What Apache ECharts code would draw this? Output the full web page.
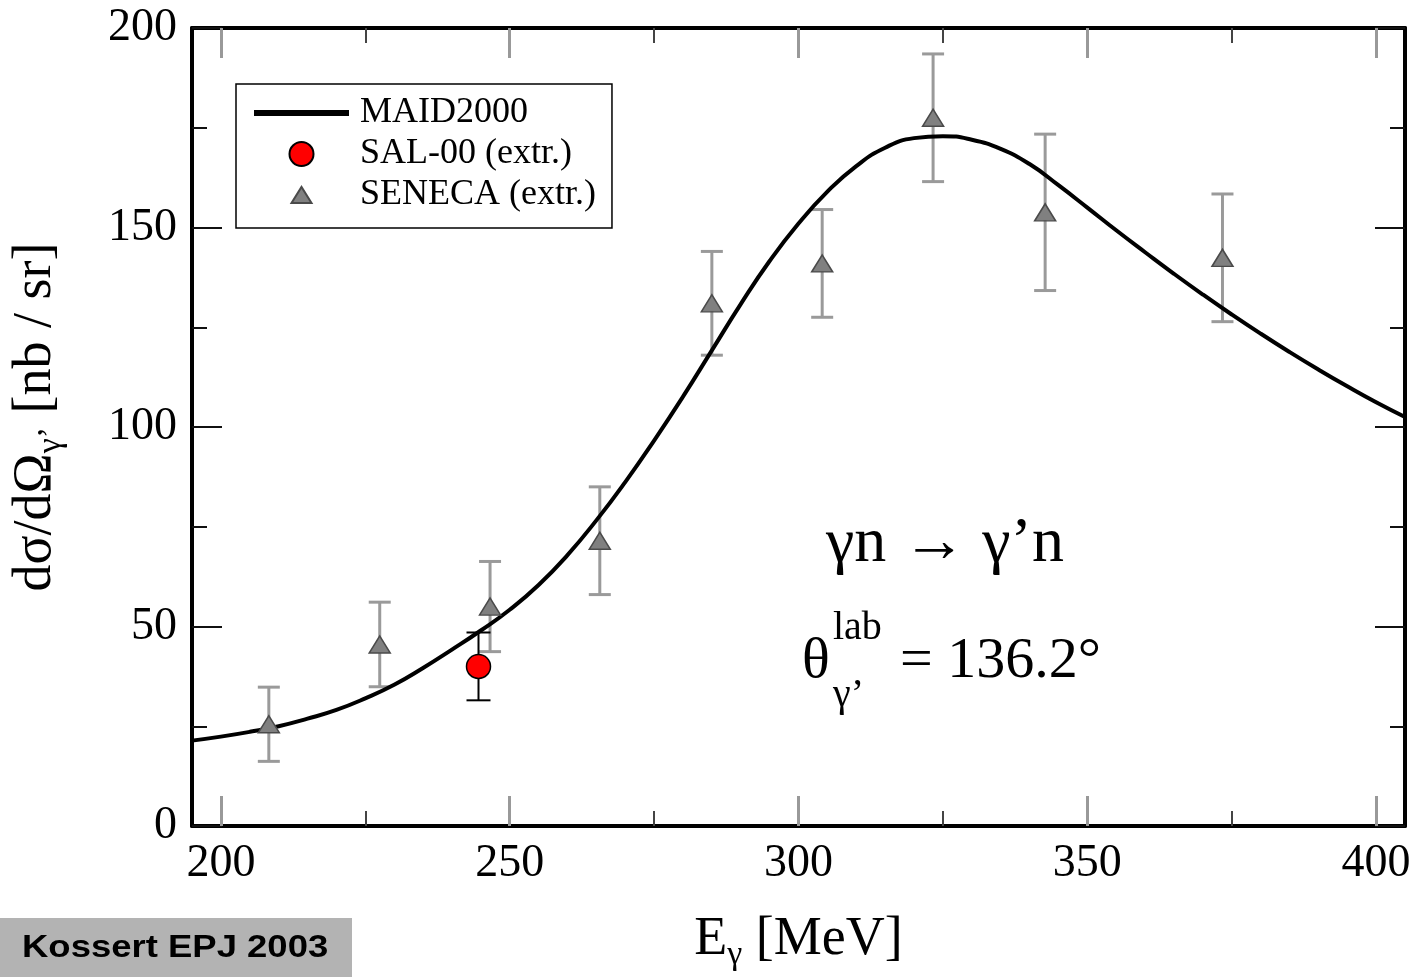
<!DOCTYPE html>
<html>
<head>
<meta charset="utf-8">
<title>MAID2000 vs SAL-00 / SENECA</title>
<script src="https://cdn.jsdelivr.net/npm/echarts@6/dist/echarts.min.js"></script>
<style>
  html, body { margin: 0; padding: 0; background: #fff; }
  #main { width: 1419px; height: 977px; }
</style>
</head>
<body>
<div id="main"></div>
<script type="text/javascript">
// axis ranges and ticks
const xMin = 195, xMax = 405;
const xMajorTicks = [200, 250, 300, 350, 400];
const xMinorTicks = [225, 275, 325, 375];
const yMin = 0, yMax = 200, yStep = 50;

// MAID2000 curve
const maidE = [195, 200, 205, 210, 215, 220, 225, 230, 235, 240, 245, 250, 255, 260, 265,
               270, 275, 280, 285, 290, 295, 300, 305, 310, 315, 320, 325, 330, 335, 340,
               345, 350, 355, 360, 365, 370, 375, 380, 385, 390, 395, 400, 405];
const maidXs = [21.4, 22.4, 23.6, 25.0, 26.9, 29.1, 32.0, 35.4, 39.6, 44.2, 49.0, 54.2, 60.4, 67.9, 76.6,
                86.2, 96.6, 107.6, 119.2, 130.8, 141.6, 151.0, 159.0, 165.4, 170.0, 172.4, 172.9, 172.0, 169.7, 165.9,
                160.6, 155.0, 149.3, 143.8, 138.4, 133.2, 128.2, 123.4, 118.8, 114.4, 110.2, 106.2, 102.5];

// SAL-00 (extr.)
const salE = [244.6];
const salXs = [40.0];
const salErr = [8.5];

// SENECA (extr.)
const senE = [208.3, 227.5, 246.6, 265.6, 285.0, 304.1, 323.3, 342.7, 373.4];
const senXs = [25.5, 45.5, 55.0, 71.5, 131.0, 141.0, 177.5, 153.8, 142.4];
const senErr = [9.3, 10.6, 11.3, 13.5, 13.0, 13.5, 16.0, 19.6, 16.0];

const serif = 'Liberation Serif';

function pairs(xs, ys) {
    return xs.map(function (x, i) { return [x, ys[i]]; });
}
function bars(xs, ys, errs) {
    return xs.map(function (x, i) { return [x, ys[i] - errs[i], ys[i] + errs[i]]; });
}
// error bar drawing through the axis scales
function errorBar(color, width, capHalf) {
    return function (params, api) {
        const lo = api.coord([api.value(0), api.value(1)]);
        const hi = api.coord([api.value(0), api.value(2)]);
        const st = { stroke: color, lineWidth: width };
        return {
            type: 'group',
            children: [
                { type: 'line', shape: { x1: lo[0], y1: lo[1], x2: hi[0], y2: hi[1] }, style: st },
                { type: 'line', shape: { x1: lo[0] - capHalf, y1: lo[1], x2: lo[0] + capHalf, y2: lo[1] }, style: st },
                { type: 'line', shape: { x1: hi[0] - capHalf, y1: hi[1], x2: hi[0] + capHalf, y2: hi[1] }, style: st }
            ]
        };
    };
}

function xAxisDef(pos, ticks, len, color, width, labels, line) {
    return {
        type: 'value', position: pos, min: xMin, max: xMax,
        axisLine: { show: line, lineStyle: { color: '#000', width: 4 } },
        axisTick: { show: true, inside: true, length: len, customValues: ticks,
                    lineStyle: { color: color, width: width } },
        axisLabel: labels ? { show: true, customValues: ticks, margin: 15,
                              fontFamily: serif, fontSize: 46, color: '#000' } : { show: false },
        splitLine: { show: false }
    };
}
function yAxisDef(pos, labels) {
    return {
        type: 'value', position: pos, min: yMin, max: yMax, interval: yStep,
        axisLine: { show: true, lineStyle: { color: '#000', width: 4 } },
        axisTick: { show: true, inside: true, length: 30, lineStyle: { color: '#111', width: 2 } },
        minorTick: { show: true, splitNumber: 2, length: 15, lineStyle: { color: '#111', width: 2 } },
        axisLabel: labels ? { show: true, margin: 15, fontFamily: serif, fontSize: 46, color: '#000' } : { show: false },
        splitLine: { show: false }
    };
}

const chart = echarts.init(document.getElementById('main'));

const xAxes = [
    xAxisDef('bottom', xMajorTicks, 30, '#999', 3, true, true),
    xAxisDef('bottom', xMinorTicks, 15, '#444', 2, false, false),
    xAxisDef('top', xMajorTicks, 30, '#999', 3, false, true),
    xAxisDef('top', xMinorTicks, 15, '#444', 2, false, false)
];
xAxes[0].name = 'E{s|γ} [MeV]';
xAxes[0].nameLocation = 'middle';
xAxes[0].nameGap = 82;
xAxes[0].nameTextStyle = {
    fontFamily: serif, fontSize: 54, color: '#000',
    rich: { s: { fontFamily: serif, fontSize: 34, color: '#000', padding: [30, 0, 0, 0] } }
};

const yAxes = [yAxisDef('left', true), yAxisDef('right', false)];
yAxes[0].name = 'dσ/dΩ{s|γ’} [nb / sr]';
yAxes[0].nameLocation = 'middle';
yAxes[0].nameGap = 124;
yAxes[0].nameRotate = 90;
yAxes[0].nameTextStyle = {
    fontFamily: serif, fontSize: 54, color: '#000', padding: [0, 0, 0, 20],
    rich: { s: { fontFamily: serif, fontSize: 34, color: '#000', padding: [30, 0, 0, 0] } }
};

// legend triangle: padded box so the glyph stays small like the reference
const legendTriangle = 'path://M0,0 M26,24 M3,20 L13,4 L23,20 Z';

chart.setOption({
    animation: false,
    backgroundColor: '#fff',
    grid: { left: 192, right: 14, top: 28, bottom: 151 },
    xAxis: xAxes,
    yAxis: yAxes,
    legend: {
        orient: 'vertical', left: 236, top: 84,
        padding: [11, 16, 15, 18],
        itemWidth: 95, itemHeight: 24, itemGap: 5,
        backgroundColor: '#fff', borderColor: '#000', borderWidth: 1.5, borderRadius: 0,
        textStyle: { fontFamily: serif, fontSize: 36, color: '#000', padding: [0, 0, 0, 6] },
        data: [
            { name: 'MAID2000', icon: 'path://M0,0 L95,0 L95,6 L0,6 Z' },
            { name: 'SAL-00 (extr.)', icon: 'circle' },
            { name: 'SENECA (extr.)', icon: legendTriangle }
        ]
    },
    series: [
        {
            name: 'SENECA bars', type: 'custom', xAxisIndex: 0, yAxisIndex: 0,
            renderItem: errorBar('#9a9a9a', 3, 11), data: bars(senE, senXs, senErr), z: 2
        },
        {
            name: 'MAID2000', type: 'line', xAxisIndex: 0, yAxisIndex: 0,
            data: pairs(maidE, maidXs), smooth: true, showSymbol: false, symbol: 'none',
            lineStyle: { color: '#000', width: 4 }, itemStyle: { color: '#000' }, z: 3
        },
        {
            name: 'SAL bars', type: 'custom', xAxisIndex: 0, yAxisIndex: 0,
            renderItem: errorBar('#000', 2, 12), data: bars(salE, salXs, salErr), z: 4
        },
        {
            name: 'SENECA (extr.)', type: 'scatter', xAxisIndex: 0, yAxisIndex: 0,
            data: pairs(senE, senXs), symbol: 'path://M0,17 L10,0 L20,17 Z', symbolSize: [21, 17],
            itemStyle: { color: '#808080', borderColor: '#4a4a4a', borderWidth: 1.5, opacity: 1 }, z: 5
        },
        {
            name: 'SAL-00 (extr.)', type: 'scatter', xAxisIndex: 0, yAxisIndex: 0,
            data: pairs(salE, salXs), symbol: 'circle', symbolSize: 24,
            itemStyle: { color: '#ff0000', borderColor: '#000', borderWidth: 1.5, opacity: 1 }, z: 6
        }
    ],
    graphic: [
        { type: 'text', left: 826, top: 512,
          style: { text: 'γn → γ’n', font: '64px "Liberation Serif"', fill: '#000' } },
        { type: 'text', x: 802, y: 662,
          style: { text: 'θ', font: '58px "Liberation Serif"', fill: '#000', textVerticalAlign: 'middle' } },
        { type: 'text', x: 833, y: 628,
          style: { text: 'lab', font: '40px "Liberation Serif"', fill: '#000', textVerticalAlign: 'middle' } },
        { type: 'text', x: 833, y: 695,
          style: { text: 'γ’', font: '40px "Liberation Serif"', fill: '#000', textVerticalAlign: 'middle' } },
        { type: 'text', x: 900, y: 662,
          style: { text: '= 136.2°', font: '58px "Liberation Serif"', fill: '#000', textVerticalAlign: 'middle' } },
        { type: 'rect', shape: { x: 0, y: 918, width: 352, height: 59 }, style: { fill: '#b3b3b3' } },
        { type: 'text', x: 22, y: 948, scaleX: 1.14,
          style: { text: 'Kossert EPJ 2003', font: 'bold 32px "Liberation Sans"', fill: '#000', textVerticalAlign: 'middle' } }
    ]
});
</script>
</body>
</html>
